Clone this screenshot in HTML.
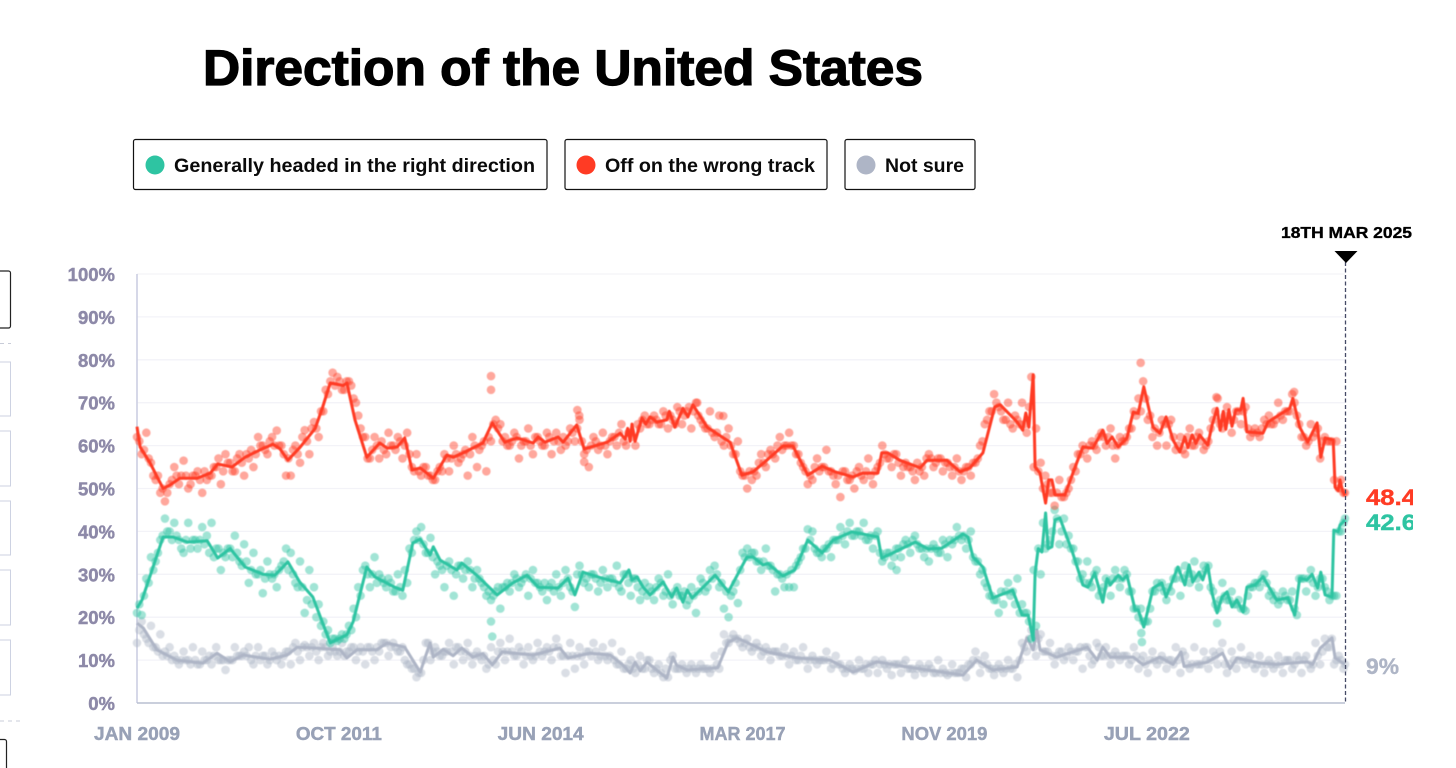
<!DOCTYPE html>
<html lang="en">
<head>
<meta charset="utf-8">
<title>Direction of the United States</title>
<style>
html,body{margin:0;padding:0;background:#fff;width:1456px;height:768px;overflow:hidden}
svg{display:block;font-family:"Liberation Sans",Arial,sans-serif}
#marks{filter:blur(0.45px)}
</style>
</head>
<body>
<svg id="chart" xmlns="http://www.w3.org/2000/svg" width="1456" height="768" viewBox="0 0 1456 768">
  <defs><clipPath id="label-clip"><rect x="1350" y="470" width="63" height="220"/></clipPath></defs>
  <rect x="0" y="0" width="1456" height="768" fill="#fff"/>
  <text x="203" y="85" font-size="50" font-weight="700" fill="#000" stroke="#000" stroke-width="1.3" textLength="720" lengthAdjust="spacingAndGlyphs">Direction of the United States</text>

  <g>
    <rect x="133.5" y="139.5" width="413.5" height="50" rx="2" fill="#fff" stroke="#111" stroke-width="1.2"/>
    <circle cx="155" cy="165" r="9.5" fill="#2ec4a2"/>
    <text x="174" y="172" font-size="19" font-weight="700" fill="#0a0a0a" textLength="361" lengthAdjust="spacingAndGlyphs">Generally headed in the right direction</text>
  </g>
  <g>
    <rect x="565" y="139.5" width="262" height="50" rx="2" fill="#fff" stroke="#111" stroke-width="1.2"/>
    <circle cx="586" cy="165" r="9.5" fill="#ff3b24"/>
    <text x="605" y="172" font-size="19" font-weight="700" fill="#0a0a0a" textLength="210" lengthAdjust="spacingAndGlyphs">Off on the wrong track</text>
  </g>
  <g>
    <rect x="845" y="139.5" width="130" height="50" rx="2" fill="#fff" stroke="#111" stroke-width="1.2"/>
    <circle cx="866" cy="165" r="9.5" fill="#aeb5c6"/>
    <text x="885" y="172" font-size="19" font-weight="700" fill="#0a0a0a" textLength="79" lengthAdjust="spacingAndGlyphs">Not sure</text>
  </g>

  <g>
    <rect x="-20" y="271" width="30.5" height="57" rx="2" fill="#fff" stroke="#222" stroke-width="1.2"/>
    <line x1="0" y1="343.5" x2="11" y2="343.5" stroke="#c8ccd8" stroke-dasharray="4 4"/>
    <rect x="-20" y="362" width="30.5" height="54" fill="#fff" stroke="#cdd2e2"/>
    <rect x="-20" y="431" width="30.5" height="55" fill="#fff" stroke="#cdd2e2"/>
    <rect x="-20" y="501" width="30.5" height="54" fill="#fff" stroke="#cdd2e2"/>
    <rect x="-20" y="570" width="30.5" height="55" fill="#fff" stroke="#cdd2e2"/>
    <rect x="-20" y="640" width="30.5" height="55" fill="#fff" stroke="#cdd2e2"/>
    <line x1="0" y1="721" x2="20" y2="721" stroke="#c8ccd8" stroke-dasharray="4 4"/>
    <rect x="-20" y="739.5" width="26.5" height="50" rx="2" fill="#fff" stroke="#222" stroke-width="1.2"/>
  </g>

  <g id="grid"></g>
  <g id="yticks"></g>
  <g id="xticks"></g>
  <line x1="137" y1="274" x2="137" y2="703" stroke="#c9cce0" stroke-width="1.5"/>
  <line x1="137" y1="703" x2="1345" y2="703" stroke="#b9bfd0" stroke-width="1.5"/>
  <g id="marks"></g>

  <line x1="1345.5" y1="262" x2="1345.5" y2="703" stroke="#454a66" stroke-width="1.3" stroke-dasharray="4 2.5"/>
  <polygon points="1334.5,251 1357.5,251 1346,263" fill="#000"/>
  <text x="1281" y="238" font-size="15.5" font-weight="700" fill="#000" stroke="#000" stroke-width="0.35" textLength="131" lengthAdjust="spacingAndGlyphs">18TH MAR 2025</text>

  <g clip-path="url(#label-clip)">
    <text x="1366" y="505" font-size="22.5" font-weight="700" fill="#ff3b24" stroke="#ff3b24" stroke-width="0.4" textLength="50" lengthAdjust="spacingAndGlyphs">48.4</text>
    <text x="1366" y="530" font-size="22.5" font-weight="700" fill="#2ec4a2" stroke="#2ec4a2" stroke-width="0.4" textLength="50" lengthAdjust="spacingAndGlyphs">42.6</text>
    <text x="1366" y="674" font-size="22.5" font-weight="700" fill="#aeb5c6" stroke="#aeb5c6" stroke-width="0.4" textLength="33" lengthAdjust="spacingAndGlyphs">9%</text>
  </g>
</svg>

<script>
/* Axis data */
const yTickValues = [0,10,20,30,40,50,60,70,80,90,100];
const xTickLabels = ["JAN 2009","OCT 2011","JUN 2014","MAR 2017","NOV 2019","JUL 2022"];
const xTickMonths = [0,32.5,65,97.5,130,162.6];
const totalMonths = 194.5;
const pollStepMonths = 0.75;
const pollOffsetMonths = 0.375;

/* Trend line: months since Jan 2009 and percentage */
const wrongMonths = [0,0.5,2.1,4.2,5.3,6.9,9.7,11.8,13,15.3,17.4,19.8,21.9,23,24.3,26.2,28.7,29.9,31.1,33.2,33.8,35.1,37,39.1,40.3,41.9,43.1,44.3,45.6,47.7,49.9,50.9,52.5,55.7,57.2,59.2,61.2,63.8,64.6,65.7,67.8,68.6,70.8,72,75.7,77.8,78.6,79,79.4,79.7,80.2,81.3,81.9,82.6,83.7,85.3,85.7,86.6,87.9,88.7,89.5,91.8,95.5,97.4,99.2,101.4,104,105.6,108,110.3,112.4,115.3,116.9,119.3,119.9,120.9,122.8,126.1,127.2,130.4,132.5,134.1,136.2,138.1,139,141.7,142.6,143.1,143.6,144.3,144.6,145.4,146.3,146.8,147.3,147.8,149.4,151.3,152.3,153.9,155.5,156.2,157,158,159.4,160.4,161.2,162.1,163.6,164.7,165.7,166.8,167.9,168.7,169.2,169.9,170.5,171.1,172.4,173.1,173.9,174.4,174.9,175.3,175.8,176.3,176.9,177.7,178.1,178.7,181.3,182.1,185.6,186.1,187.2,188.5,190,190.6,191.3,192.6,192.9,193.4,193.7,194.1,194.5];
const wrongValues = [64.4,59.7,56,50,50.8,52.4,52.4,53.6,55.7,55,57.3,59,60.3,59.3,56.6,59.5,64,69,74.6,74,74.6,66,57.3,60.6,59.4,59.7,61.8,54.3,54.8,52.4,57.8,57.3,58.3,60.6,65.3,60.8,61.8,60.6,62,60.8,62,60.8,64.8,59.2,60.8,62.9,61.5,64,61,65,61,66.4,65,66.7,65.5,66,68,64.3,68.7,66.7,69.5,64.3,60.8,53.1,53.9,56.6,59.9,59.9,53.1,55.2,53.9,52.7,53.6,53.6,58.3,58.3,56.6,54.8,56.6,56.6,53.9,54.8,58.3,69,69.5,65.5,63.6,67.6,64.3,76.5,55,53.6,46.6,52,52,48.5,48.5,56,59.7,59.4,63.6,60.5,62,59.7,61.8,67.8,67.5,73.7,64.3,62.9,66.7,61.3,58.5,62,59.5,62.5,60.5,62.5,60.1,64.8,68.7,63.6,68,63.8,68.4,64.5,68.3,68.3,71,63.2,62.9,65.5,68.7,71,64.3,60.8,65.3,57.3,61.8,61.3,50.3,49.5,52,49.5,48.4];

const rightMonths = [0,0.8,4.2,5.8,8.1,11.3,13,15,17.4,20.3,22.2,24.3,26.2,28.3,31.1,33.8,34.8,37,38.3,41.5,42.8,44.4,45.6,47.2,47.7,48.8,51.5,52.3,54.7,58,60.5,62.8,64.6,67.8,69.4,70.5,71.8,74.9,77.8,79.2,79.7,80.5,81.5,82.6,84.7,86.1,86.9,87.9,88.6,89.4,93.1,95.2,98.2,99.2,100.8,101.6,104,105.9,108,110.3,112.1,115.1,119.3,119.9,121.7,125.3,127.4,129.6,133,133.8,134.6,136.2,137.8,141,142.5,143.5,144.3,144.6,145.1,145.7,146.3,146.7,147.3,147.8,148.6,150.5,152.3,153.1,154.2,155.5,156.2,156.7,158,158.7,159.4,160.7,161.2,162.1,163.6,165,165.7,167.6,168.7,169.4,170,171,171.6,172.4,173.1,173.9,174.7,175.5,176.3,177.1,178.1,178.7,180,181.3,183.5,185.3,186.4,187.2,188.4,189.2,190.1,190.6,191.3,192.4,192.7,193.4,193.7,194.5];
const rightValues = [22.1,24,38.7,38.7,37.5,37.8,33.8,36,31.7,30,29.8,32.9,28.2,24.7,14,15.9,18.9,31.7,29.4,27,26.3,37.3,38.2,34.5,36.4,33.3,31,32.6,29.8,25.2,28,29.8,27,26.8,29.1,25.2,30.5,29.1,28,31,28.7,29.4,27,25.2,28.2,24.7,26.8,23.5,26.3,24.5,29.8,25.9,34,34,32.2,32.5,29.6,31,38,35,38,39.9,38.7,33.8,35,37.5,35.9,36.1,39.4,38.7,34,31.7,24.5,26.3,20.5,20.5,14.7,30.3,36,35.2,44.3,36,36.4,42.7,43.1,35.7,27.5,27,30.3,23.5,29,27.5,29.8,28.7,29.8,21.7,21.7,17.7,26.8,28,24.7,31.7,27.5,32.2,28.2,30.5,28.7,32.2,25.6,21,24.7,25.9,22.4,24,21.2,27,27.5,29.4,24,24.5,20.5,29.1,28.7,30,26.8,30.5,25.2,24.7,40.3,39.9,41.5,42.6];

const notSureMonths = [0,1,3.2,6.4,10.6,12.9,15,17.1,21.4,24.2,25.8,29,32.7,33.8,35.4,38.6,40.3,43.1,45.6,47.2,47.7,49.3,50.9,52.3,54.1,55.7,57.2,58.8,63.8,68.1,69.4,72.9,76.2,78.2,79.4,80.2,81,82.1,85.3,86.3,86.9,88.6,93.5,95.2,96.6,101.4,106.3,111.6,115.3,119.1,124.9,133,135.2,137.8,141.7,143.3,144.3,144.9,145.4,148.1,153,154.6,155.5,156.7,160.4,162,164.7,166.8,168.1,168.6,172.3,174.8,176,177.1,180.8,183.5,188.4,189.3,190.5,192.4,192.9,194.5];
const notSureValues = [18.6,17.5,12.4,10,9.3,11.6,9.6,11.2,10.2,11.2,13,12.8,12.4,10.5,12.4,12.4,14,13,7.2,14,10.7,12.5,11,12.8,10.7,11.5,8.9,11.9,11.2,12.8,10.5,11.6,11.2,8.9,7,9.5,7.5,9.5,5.8,10.7,8.8,7.7,8.2,14.2,15.2,11.9,10.5,10,7.2,9.6,8.2,6.5,10,7.7,8.4,15.2,12.4,17,12.4,10.7,13,10,13,10.7,10.7,8.9,10.7,9,11.9,8.5,9.5,11.6,8,10.5,9.3,9,9.6,9,12.8,15.2,10.5,9];

/* Individual polls: the scattered outer band, one every pollStepMonths */
const wrongPolls = [
62,58,63,56,52,49,47,51,55,51,
56.5,50,53,54,49,52,53,55,51,58,
56,54,58,53,57,55,62,60,58,62,
63.5,60,53,53,60,56,63.6,58,65.5,62,
68,72,77,76,73,75,74,70,64,62,
57,62,57,59,63,60,62,57,63,55,
58,53,55,53,52,55,58,54,60,56,
58,53,62,55,60,54,61,66,65,62,
60,63,57,61,64,58,62,60,63,58,
63,59,60,64,61,66,58,55,62,59,
63,58,62,60,65,60,63,60,64,67,
65,67,65,68,64,66,69,65,68,64,
70,66,64,68,62,67,60,64,58,61,
53,50,52,53,58,55,59,57,62,60,
63,60,58,55,51,52,57,55,59,54,
51,48,54,52,50,55,52,57,51,55,
60,57,55,58,53,56,55,52,54,53,
58,55,57,54,56,53,57,52,55,53,
56,60,65,68,72,69,66,70,64,66,
70,63,76,64,56,53,49,46,52,48,
50,55,58,60,57,61,59,63,60,64,
57,62,61,64,68,71,75,66,62,60,
66,60,66,59,62,58,64,60,63,59,
61,66,71,64,69,63,68,65,69,62,
64,62,66,67,65,70,66,68,72,67,
62,60,65,63,57,62,61,52,50,49];
/* Polls close to the trend, offset by pollOffsetMonths */
const wrongPollsInner = [
61,59,57,53,53,50,49,52,53,53,
53,51,53,52,54,53,55,57,54,56,
54,57,56,58,59,58,60,59,61,60,
60,58,57,59,58,62,61,64,64,68,
73,75,74,75,73,75,71,67,62,57,
59,60,61,58,60,59,61,60,58,54,
54,55,53,52,54,54,57,57,58,57,
59,58,60,59,61,62,65,64,61,60,
61,62,60,61,60,62,61,60,62,61,
61,62,61,63,64,61,59,60,61,60,
60,61,62,63,61,63,62,65,66,65,
66,66,65,67,67,65,68,67,69,68,
67,65,64,63,63,61,62,60,58,54,
53,54,54,56,56,58,58,60,59,60,
60,58,56,54,53,55,54,55,54,53,
53,54,52,53,54,53,54,53,54,56,
58,57,58,56,55,55,54,56,55,57,
57,56,57,56,55,55,54,54,55,56,
57,61,66,68,70,68,66,65,67,65,
65,69,55,54,50,51,49,49,48,49,
52,54,58,59,60,60,62,62,62,60,
60,61,62,64,67,68,71,67,64,63,
65,65,62,60,59,62,60,62,61,60,
64,68,65,67,66,66,68,68,64,63,
63,64,65,65,66,67,68,68,70,65,
62,61,62,64,61,61,61,61,52,49];
const wrongOutlierMonths = [57,57,161.6,70.9,71.2,72,94.4,90.2,173.8,186.3];
const wrongOutlierValues = [76.2,73,79.3,68.3,67,56.2,66.9,70,71.3,72.5];

const rightPolls = [
21,20.5,29,34,33,38,43,40,42,38,
35,42,38,36,41,39,42,36,31,34,
36,39,33,37,28,35,30,25.6,33,29,
27,32,36,35,28,33,21,31,27,23,
19,17,15,14.5,16,16,17,20,25,32,
27,34,30,28,29,26,30,25,28,35,
40,41,35,38.5,30,32,27,33,25,32,
29,33,27,31,28,25,24,26,22,27,
26,30,27,29,25,31,28,26,24,28,
30,25,31,27,22.4,32,28,27,30,26,
31,27,29,32,26,30,25,29,24,28,
27,24,29,25,30,23,27,25,22.8,27,
21,29,26,31,32,27,22,20,26,23.3,
35,36,35,33,31,36,32,26,30,27,
27,27,33,36,40.5,40,35,34,36,34,
38,41,37,42,39,40,42,38,36,40,
33,35,32,36,34,38,35,39,36,34,
33,37,35,38,34,37,41,38,36,40,
33,30,28,25,24,21,23,28,26,29,
23,21,15,18,30,36,38,45,37,43,
39,36,33,30,33,27,31,26,29,25,
31,27,31,26,22,20,19,19,26,28,
28,24,26,29,25,32,28,33,27,32,
32,26,22,28,24,26,23,22,21.5,27,
28,27,30,25,24,23,26,24,26,20.5,
29,26,31,25,29,27,24,25,40,42];
const rightPollsInner = [
23,25,28,31,35,39,40,38,39,36,
38,36,38,38,37,35,34,36,35,36,
34,35,32,33,31,30,31,29,30,30,
31,33,31,30,27,27,24,23,20,18,
16,14,15,15,15,18,22,27,31,30,
30,28,29,27,28,26,27,31,36,38,
38,37,35,34,33,31,32,31,30,32,
31,31,29,29,27,26,25,27,27,28,
28,29,28,30,29,28,27,28,27,26,
27,28,29,26,30,30,29,30,29,28,
29,29,28,27,30,28,29,27,26,25,
26,27,28,26,25,26,25,26,24,25,
26,28,27,29,30,28,26,25,28,31,
34,34,35,33,33,32,31,30,29,30,
31,32,34,36,38,36,35,36,37,38,
38,39,40,39,40,39,38,39,39,35,
34,35,34,36,37,37,38,37,36,36,
36,36,35,37,38,38,39,39,38,34,
33,31,27,25,24,26,26,25,23,21,
21,19,31,36,42,37,40,43,40,37,
36,33,29,28,28,30,25,27,28,29,
29,29,30,26,22,22,19,22,26,27,
26,27,29,31,29,30,30,29,30,31,
27,23,24,25,24,23,24,22,25,27,
28,29,28,26,25,24,25,24,22,29,
29,29,28,27,29,26,25,25,40,43];
const rightOutlierMonths = [57,57.2,161.7,161.8,173.9,122.3];
const rightOutlierValues = [19,15.5,16.3,14.2,18.6,31];

const notSurePolls = [
14,19,15,18,13,16,12,13,11,9,
12,10,13,9,12,10,9,13,10,7.7,
10,13,11,12,13,9,13,11,9,12,
10,9,12,9,14,10,13.5,11,14,10,
14,11,13,11,14,12,13,10,13,9,
13,10,12,14,11,14,12,13,9,8,
6,7,14,10,13,11,12,14,9,13,
10,14,9,12,10,8,13,9,14,10,
15,11,13,9,13,10,14,11,13,10,
15,11,7,14,8,13,9,12,14,10,
13,10,14,9,12,8,10,7,11,8,
10,7,9,6,6,11,8,9,7,9,
7,9,8,7,11,8,16,14,16,15,
13,15,12,14,11,13,10,12,11,13,
9,12,10,13,8,11,9,10,12,8,
11,9,7,9,7.5,10,8,7,9,7,
10,8,6.5,9,7,10,8,6.5,9,7,
9,7,10,8,6.5,9,7,8,6,9,
12,7,11,8,6.5,9,7,10,8,6,
14,12,17,11,16,12,14,9,12,10,
13,10,12,8,13,9,14,11,13,9,
12,10,11,9,13,8,11,7,12,9,
11,8,10,13,7,11,8,13,9,12,
8,12,9,14,7,12,8,13,9,11,
8,11,7,10,8,11,7,10,8,11,
7,11,8,14,9,15,13,9,11,8];
const notSurePollsInner = [
17,16,14,13,12,11,11,10,10,10,
10,9,10,9,10,11,11,10,10,10,
10,11,11,11,10,11,10,11,10,11,
11,11,12,13,12,13,13,13,12,13,
13,12,12,12,11,12,13,12,12,13,
12,13,14,14,13,13,12,10,9,8,
7,10,14,12,12,11,12,12,13,12,
12,11,11,11,11,9,10,12,12,12,
12,11,12,11,11,11,12,12,12,13,
13,11,11,11,11,11,12,11,12,11,
11,11,10,9,8,9,8,9,8,10,
8,8,7,8,10,8,8,8,8,8,
8,8,8,8,9,12,14,15,15,14,
14,13,13,13,12,12,12,12,11,11,
11,10,11,10,10,10,10,10,10,9,
9,8,8,8,8,8,9,9,10,9,
9,9,9,9,9,8,8,8,8,8,
8,7,7,7,7,7,7,8,9,10,
10,9,9,8,8,8,8,8,9,10,
13,15,13,15,12,12,11,11,12,11,
12,12,13,13,11,10,13,11,11,11,
11,11,11,10,11,10,9,10,10,10,
10,10,9,10,12,9,9,9,9,10,
10,11,12,9,9,10,10,10,10,9,
9,9,9,9,9,9,10,10,9,10,
10,9,9,11,12,13,15,10,10,9];

const NS = "http://www.w3.org/2000/svg";
const plotLeft = 137, plotRight = 1345, plotTop = 274, plotBottom = 703;
function xScale(month){ return plotLeft + month / totalMonths * (plotRight - plotLeft); }
function yScale(pct){ return plotBottom - pct / 100 * (plotBottom - plotTop); }

const gridGroup = document.getElementById("grid");
const yGroup = document.getElementById("yticks");
yTickValues.forEach(function(v){
  if (v > 0) {
    const g = document.createElementNS(NS, "line");
    
    
    g.setAttribute("x1", plotLeft);
    g.setAttribute("x2", plotRight);
    g.setAttribute("y1", yScale(v));
    g.setAttribute("y2", yScale(v));
    g.setAttribute("stroke", "#f3f3f8");
    g.setAttribute("stroke-width", "1.3");
    gridGroup.appendChild(g);
  }
  const t = document.createElementNS(NS, "text");
  
  
  t.setAttribute("x", 115);
  t.setAttribute("y", yScale(v) + 7);
  t.setAttribute("text-anchor", "end");
  t.setAttribute("font-size", "18.5");
  t.setAttribute("font-weight", "700");
  t.setAttribute("fill", "#8d89a8");
  t.setAttribute("stroke", "#8d89a8");
  t.setAttribute("stroke-width", "0.45");
  t.textContent = v + "%";
  yGroup.appendChild(t);
});

const xGroup = document.getElementById("xticks");
xTickLabels.forEach(function(label, i){
  const t = document.createElementNS(NS, "text");
  
  
  t.setAttribute("x", xScale(xTickMonths[i]));
  t.setAttribute("y", 740);
  t.setAttribute("text-anchor", "middle");
  t.setAttribute("font-size", "18");
  t.setAttribute("font-weight", "700");
  t.setAttribute("fill", "#98a1b6");
  t.setAttribute("stroke", "#98a1b6");
  t.setAttribute("stroke-width", "0.45");
  t.setAttribute("textLength", "86");
  t.setAttribute("lengthAdjust", "spacingAndGlyphs");
  t.textContent = label;
  xGroup.appendChild(t);
});

const marks = document.getElementById("marks");
function drawDot(month, value, color, name){
  const c = document.createElementNS(NS, "circle");
  
  
  c.setAttribute("cx", xScale(month));
  c.setAttribute("cy", yScale(value));
  c.setAttribute("r", 4.3);
  c.setAttribute("fill", color);
  c.setAttribute("fill-opacity", "0.45");
  marks.appendChild(c);
}
function drawLine(months, values, color, name){
  const p = document.createElementNS(NS, "polyline");
  
  
  p.setAttribute("points", months.map(function(m, i){ return xScale(m).toFixed(1) + "," + yScale(values[i]).toFixed(1); }).join(" "));
  p.setAttribute("fill", "none");
  p.setAttribute("stroke", color);
  p.setAttribute("stroke-width", "3");
  p.setAttribute("stroke-linejoin", "round");
  marks.appendChild(p);
}
const RED = "#ff3b24", GREEN = "#2ec4a2", GRAY = "#aeb5c6";

notSurePolls.forEach(function(v, i){ drawDot(i * pollStepMonths, v, GRAY, "poll-dot-not-sure"); });
notSurePollsInner.forEach(function(v, i){ drawDot(Math.min(i * pollStepMonths + pollOffsetMonths, totalMonths), v, GRAY, "poll-dot-not-sure"); });
drawLine(notSureMonths, notSureValues, GRAY, "trend-line-not-sure");

rightPolls.forEach(function(v, i){ drawDot(i * pollStepMonths, v, GREEN, "poll-dot-right-direction"); });
rightPollsInner.forEach(function(v, i){ drawDot(Math.min(i * pollStepMonths + pollOffsetMonths, totalMonths), v, GREEN, "poll-dot-right-direction"); });
rightOutlierValues.forEach(function(v, i){ drawDot(rightOutlierMonths[i], v, GREEN, "poll-dot-right-direction"); });
drawLine(rightMonths, rightValues, GREEN, "trend-line-right-direction");

wrongPolls.forEach(function(v, i){ drawDot(i * pollStepMonths, v, RED, "poll-dot-wrong-track"); });
wrongPollsInner.forEach(function(v, i){ drawDot(Math.min(i * pollStepMonths + pollOffsetMonths, totalMonths), v, RED, "poll-dot-wrong-track"); });
wrongOutlierValues.forEach(function(v, i){ drawDot(wrongOutlierMonths[i], v, RED, "poll-dot-wrong-track"); });
drawLine(wrongMonths, wrongValues, RED, "trend-line-wrong-track");
</script>
</body>
</html>
